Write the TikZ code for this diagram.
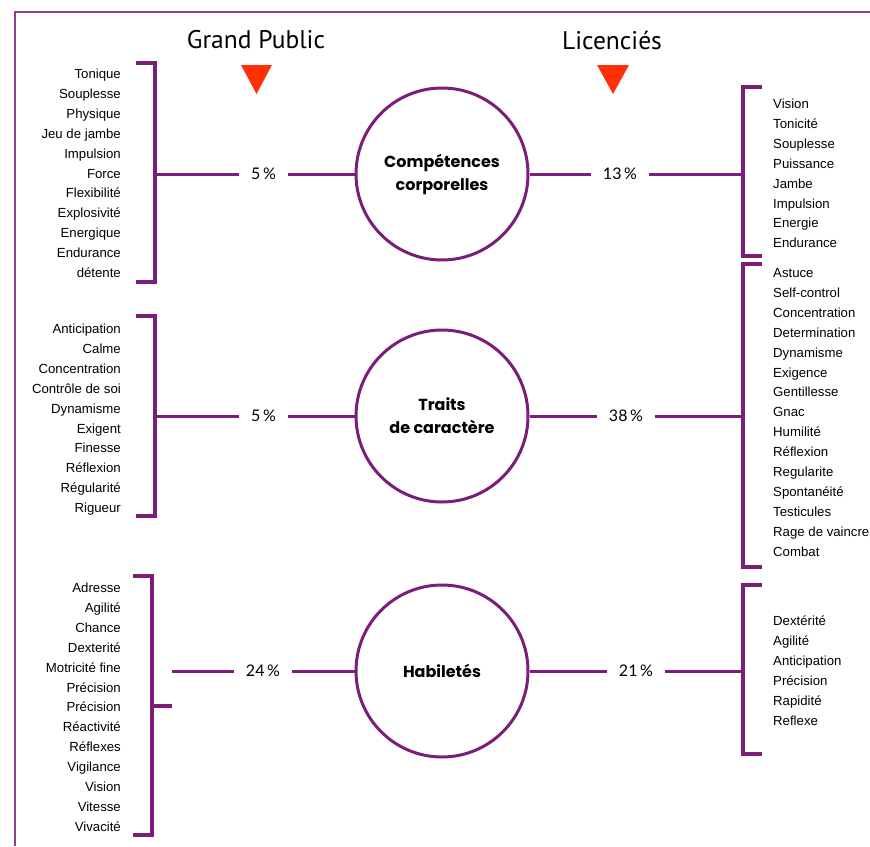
\documentclass[tikz,border=0pt]{standalone}
\usepackage{fontspec}
\setmainfont{Liberation Sans}
\newfontfamily\headfont{PT Sans}
\newfontfamily\circfont{Poppins}
\newfontfamily\pctfont{Lato}
\usetikzlibrary{positioning}
\definecolor{prune}{RGB}{122,30,122}
\definecolor{flame}{RGB}{255,48,8}

\begin{document}
\begin{tikzpicture}[x=1pt,y=-1pt]
	\tikzstyle{main}=[circle, minimum size = 172pt, line width=3pt, draw=prune, fill=white,
	                  align=center, font=\circfont\bfseries\fontsize{16}{23}\selectfont]
	\tikzstyle{connect}=[line width=3pt, draw=prune]
	\tikzstyle{brack}=[line width=3.2pt, draw=prune]
	\tikzstyle{pct}=[inner xsep=12pt, inner ysep=2pt, font=\pctfont\fontsize{16}{18}\selectfont]
	\tikzstyle{item}=[inner sep=0pt, text height=10pt, text depth=3pt, font=\fontsize{13.2}{16}\selectfont]
	\tikzstyle{head}=[font=\headfont\fontsize{25.5}{28}\selectfont]
	\useasboundingbox (0,0) rectangle (870,846);

	% frame
	\draw[prune!85, line width=2pt] (15,846) -- (15,12) -- (875,12);

	% titles
	\node[head] (gp) at (256,40) {Grand Public};
	\node[head] (lic) at (612,40) {Licenciés};
	\fill[flame] (241,65) -- (272,65) -- (256.5,94) -- cycle;
	\fill[flame] (597,65) -- (629,65) -- (613,94) -- cycle;

	% circles
	\node[main] (corp) at (442,174) {Compétences\\corporelles};
	\node[main] (cara) at (442,416) {Traits\\de caractère};
	\node[main] (habi) at (442,671) {Habiletés};

	% percentages
	\node[pct] (gpcorp) at (263.5,174) {5\,\%};
	\node[pct] (gpcara) at (263.5,416) {5\,\%};
	\node[pct] (gphabi) at (263,671) {24\,\%};
	\node[pct] (licorp) at (620,174) {13\,\%};
	\node[pct] (licara) at (626,416) {38\,\%};
	\node[pct] (lihabi) at (636,671) {21\,\%};

	% brackets
	\draw[brack] (136,63) -- (155,63) -- (155,282) -- (136,282);
	\draw[brack] (136,316) -- (155,316) -- (155,516) -- (136,516);
	\draw[brack] (133,576) -- (152,576) -- (152,835) -- (133,835);
	\draw[brack] (152,706) -- (172,706);
	\draw[brack] (762,87) -- (743,87) -- (743,256) -- (762,256);
	\draw[brack] (762,264) -- (743,264) -- (743,567) -- (762,567);
	\draw[brack] (762,585) -- (743,585) -- (743,754) -- (762,754);
	\coordinate (bgA) at (155,174);
	\coordinate (bgB) at (155,416);
	\coordinate (bgC) at (172,671);
	\coordinate (bdA) at (743,174);
	\coordinate (bdB) at (743,416);
	\coordinate (bdC) at (743,671);

	% connections
	\draw[connect] (bgA) -- (gpcorp) -- (corp) -- (licorp) -- (bdA);
	\draw[connect] (bgB) -- (gpcara) -- (cara) -- (licara) -- (bdB);
	\draw[connect] (bgC) -- (gphabi) -- (habi) -- (lihabi) -- (bdC);

	% lists
	\foreach \w [count=\i] in {Tonique, Souplesse, Physique, Jeu de jambe, Impulsion, Force,
	    Flexibilité, Explosivité, Energique, Endurance, détente}
	  \node[item, anchor=east] (ga\i) at (121,{75+19.9*(\i-1)}) {\w};
	\foreach \w [count=\i] in {Anticipation, Calme, Concentration, Contrôle de soi, Dynamisme,
	    Exigent, Finesse, Réflexion, Régularité, Rigueur}
	  \node[item, anchor=east] (gb\i) at (121,{330+19.9*(\i-1)}) {\w};
	\foreach \w [count=\i] in {Adresse, Agilité, Chance, Dexterité, Motricité fine, Précision,
	    Précision, Réactivité, Réflexes, Vigilance, Vision, Vitesse, Vivacité}
	  \node[item, anchor=east] (gc\i) at (121,{589+19.9*(\i-1)}) {\w};
	\foreach \w [count=\i] in {Vision, Tonicité, Souplesse, Puissance, Jambe, Impulsion,
	    Energie, Endurance}
	  \node[item, anchor=west] (la\i) at (773,{105+19.9*(\i-1)}) {\w};
	\foreach \w [count=\i] in {Astuce, Self-control, Concentration, Determination, Dynamisme,
	    Exigence, Gentillesse, Gnac, Humilité, Réflexion, Regularite, Spontanéité, Testicules,
	    Rage de vaincre, Combat}
	  \node[item, anchor=west] (lb\i) at (773,{274+19.9*(\i-1)}) {\w};
	\foreach \w [count=\i] in {Dextérité, Agilité, Anticipation, Précision, Rapidité, Reflexe}
	  \node[item, anchor=west] (lc\i) at (773,{622+19.9*(\i-1)}) {\w};
\end{tikzpicture}
\end{document}
